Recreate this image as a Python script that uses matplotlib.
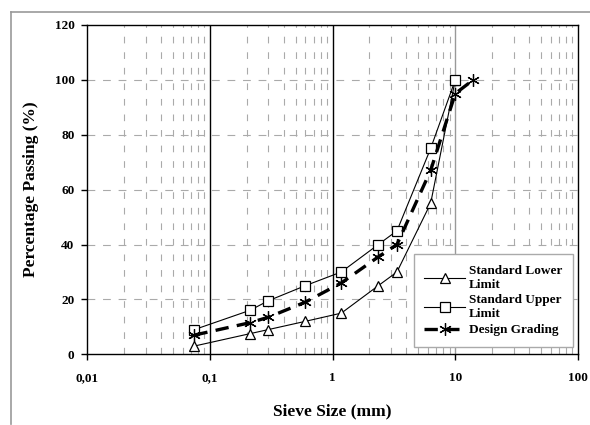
import matplotlib
matplotlib.use("Agg")
import matplotlib.pyplot as plt
from matplotlib.lines import Line2D
from matplotlib.ticker import FixedLocator, NullFormatter, NullLocator

# Data
sieve_limits = [0.075, 0.212, 0.3, 0.6, 1.18, 2.36, 3.35, 6.3, 10]
lower_limit = [3, 7.5, 9, 12, 15, 25, 30, 55, 100]
upper_limit = [9, 16, 19.5, 25, 30, 40, 45, 75, 100]
sieve_design = [0.075, 0.212, 0.3, 0.6, 1.18, 2.36, 3.35, 6.3, 10, 14]
design = [7, 11.5, 13.5, 19, 26, 35.5, 40, 67, 95, 100]

x_ticks = [0.01, 0.1, 1, 10, 100]
x_tick_labels = ["0,01", "0,1", "1", "10", "100"]
y_ticks = [0, 20, 40, 60, 80, 100, 120]

font = "Liberation Serif"

fig = plt.figure(figsize=(5.9, 4.25), dpi=100)
ax = fig.add_axes([0.1475, 0.1664, 0.8322, 0.7748])

# Figure border (left and top only visible)
ytop = 1 - 11.5 / 425
xleft = 11 / 590
fig.lines.append(Line2D([xleft, xleft], [0.003, ytop], transform=fig.transFigure,
                        color="#999999", lw=1.2))
fig.lines.append(Line2D([xleft, 1.0], [ytop, ytop], transform=fig.transFigure,
                        color="#999999", lw=1.2))

ax.set_xscale("log")
ax.set_xlim(0.01, 100)
ax.set_ylim(0, 120)

# grid: horizontal dashed
for yv in y_ticks[1:-1]:
    ax.axhline(yv, color="#aaaaaa", lw=0.8, ls=(0, (7, 7)), zorder=1)
# minor vertical dashed
for dec in [0.01, 0.1, 1, 10]:
    for m in range(2, 10):
        ax.axvline(dec * m, color="#aaaaaa", lw=0.8, ls=(0, (6, 8)), zorder=1)
ax.axvline(0.1, color="black", lw=1, zorder=1)
ax.axvline(1, color="black", lw=1, zorder=1)
ax.axvline(10, color="#999999", lw=1, zorder=1)

ax.plot(sieve_limits, lower_limit, color="black", lw=0.8, marker="^", ms=7,
        mfc="white", mec="black", mew=0.9, label="Standard Lower\nLimit", zorder=3)
ax.plot(sieve_limits, upper_limit, color="black", lw=0.8, marker="s", ms=6.5,
        mfc="white", mec="black", mew=0.9, label="Standard Upper\nLimit", zorder=3)
ax.plot(sieve_design, design, color="black", lw=2.4, ls=(0, (4, 2.5)),
        marker=(6, 2, 0), ms=9, mew=0.9, label="Design Grading", zorder=4)

ax.xaxis.set_major_locator(FixedLocator(x_ticks))
ax.xaxis.set_minor_locator(NullLocator())
ax.xaxis.set_minor_formatter(NullFormatter())
ax.set_xticks(x_ticks)
ax.set_xticklabels(x_tick_labels)
ax.set_yticks(y_ticks)
ax.tick_params(axis="both", direction="out", length=4, width=1, colors="black")
ax.tick_params(axis="x", pad=9)
ax.tick_params(axis="y", pad=5)
for lab in ax.get_xticklabels() + ax.get_yticklabels():
    lab.set_fontfamily(font)
    lab.set_fontweight("bold")
    lab.set_fontsize(9.5)

for sp in ax.spines.values():
    sp.set_color("black")
    sp.set_linewidth(1)

ax.set_xlabel("Sieve Size (mm)", fontfamily=font, fontweight="bold", fontsize=12.5, labelpad=14)
ax.set_ylabel("Percentage Passing (%)", fontfamily=font, fontweight="bold", fontsize=12.5, labelpad=11)

leg = ax.legend(loc="lower right", bbox_to_anchor=(0.99, 0.022), borderaxespad=0,
                prop={"family": font, "weight": "bold", "size": 9.5},
                frameon=True, fancybox=False, edgecolor="#aaaaaa",
                handlelength=3.1, labelspacing=0.3, borderpad=0.8,
                handletextpad=0.3, framealpha=1)
leg.get_frame().set_linewidth(1)

fig.savefig("out.png", dpi=100)
